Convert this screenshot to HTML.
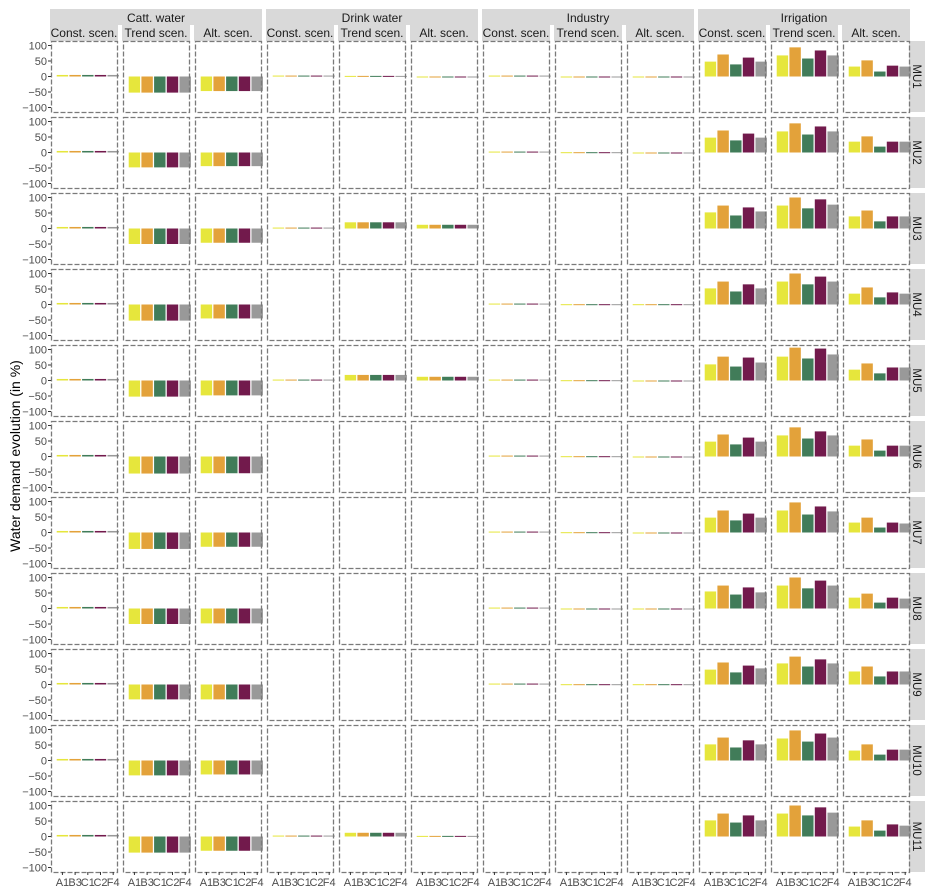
<!DOCTYPE html>
<html><head><meta charset="utf-8"><style>
body{margin:0;background:#fff;}
svg{display:block;font-family:"Liberation Sans",sans-serif;}
</style></head><body>
<svg id="chart" width="935" height="892" viewBox="0 0 935 892"></svg>
<script>
const categories = ['A1','B3','C1','C2','F4'];
const colors = ['#e6e63c','#e3a23a','#417c59','#721a4c','#999999'];
const units = ['MU1','MU2','MU3','MU4','MU5','MU6','MU7','MU8','MU9','MU10','MU11'];
const groups = ['Catt. water','Drink water','Industry','Irrigation'];
const scenarios = ['Const. scen.','Trend scen.','Alt. scen.'];
const yTicks = [100,50,0,-50,-100];
// values per unit (null = empty panel)
const cattConst = [[5,5,5,5,5],[5,5,5,5,5],[5,5,5,5,5],[5,5,5,5,5],[5,5,5,5,5],[5,5,5,5,5],[5,5,5,5,5],[5,5,5,5,5],[5,5,5,5,5],[5,5,5,5,5],[5,5,5,5,5]];
const cattTrend = [[-52,-52,-52,-52,-52],[-48,-48,-48,-48,-48],[-50,-50,-50,-50,-50],[-52,-52,-52,-52,-52],[-52,-52,-52,-52,-52],[-55,-55,-55,-55,-55],[-53,-53,-53,-53,-53],[-50,-50,-50,-50,-50],[-48,-48,-48,-48,-48],[-48,-48,-48,-48,-48],[-52,-52,-52,-52,-52]];
const cattAlt = [[-47,-47,-47,-47,-47],[-44,-44,-44,-44,-44],[-46,-46,-46,-46,-46],[-45,-45,-45,-45,-45],[-48,-48,-48,-48,-48],[-54,-54,-54,-54,-54],[-46,-46,-46,-46,-46],[-48,-48,-48,-48,-48],[-48,-48,-48,-48,-48],[-45,-45,-45,-45,-45],[-46,-46,-46,-46,-46]];
const drinkConst = [[3,3,3,3,3],null,[3,3,3,3,3],null,[3,3,3,3,3],null,null,null,null,null,[3,3,3,3,3]];
const drinkTrend = [[2,2,2,2,2],null,[20,20,20,20,20],null,[18,18,18,18,18],null,null,null,null,null,[12,12,12,12,12]];
const drinkAlt = [[-3,-3,-3,-3,-3],null,[12,12,12,12,12],null,[12,12,12,12,12],null,null,null,null,null,[2,2,2,2,2]];
const indConst = [[3,3,3,3,3],[3,3,3,3,3],null,[3,3,3,3,3],[3,3,3,3,3],[3,3,3,3,3],[3,3,3,3,3],[3,3,3,3,3],[3,3,3,3,3],null,null];
const indTrend = [[-2,-2,-2,-2,-2],[1,1,1,1,1],null,[1,1,1,1,1],[1,1,1,1,1],[1,1,1,1,1],[1,1,1,1,1],[-1,-1,-1,-1,-1],[1,1,1,1,1],null,null];
const indAlt = [[-3,-3,-3,-3,-3],[-2,-2,-2,-2,-2],null,[1,1,1,1,1],[-3,-3,-3,-3,-3],[-3,-3,-3,-3,-3],[-2,-2,-2,-2,-2],[-2,-2,-2,-2,-2],[1,1,1,1,1],null,null];
const irrConst = [[48,71,39,61,48],[48,71,39,61,48],[52,74,42,68,55],[52,74,42,65,52],[52,77,45,74,58],[48,71,39,61,48],[48,71,39,61,48],[55,74,45,68,52],[48,71,39,61,52],[52,74,42,65,52],[52,74,45,68,52]];
const irrTrend = [[68,94,58,84,68],[68,94,58,84,68],[74,100,65,94,77],[74,100,65,90,74],[77,106,71,103,84],[68,94,58,81,68],[71,97,58,84,68],[74,100,65,90,74],[68,90,58,81,68],[71,97,61,87,74],[74,100,68,94,77]];
const irrAlt = [[32,52,16,35,32],[35,52,19,35,35],[39,58,23,39,39],[35,55,23,39,35],[35,55,23,42,42],[35,55,19,35,35],[32,48,16,32,29],[35,48,19,35,32],[42,58,26,42,42],[32,52,19,35,35],[32,52,19,39,35]];
const panelData = [cattConst,cattTrend,cattAlt,drinkConst,drinkTrend,drinkAlt,indConst,indTrend,indAlt,irrConst,irrTrend,irrAlt];

const svg = document.getElementById('chart');
const NS = 'http://www.w3.org/2000/svg';
function mk(tag, attrs, parent){const e=document.createElementNS(NS,tag);for(const k in attrs)e.setAttribute(k,attrs[k]);(parent||svg).appendChild(e);return e;}
const X0=51, PW=66, PSTEP=72, Y0=41, PH=71, RSTEP=76;
const panelX = c => X0 + c*PSTEP;
const panelY = r => Y0 + r*RSTEP;
const yScale = (v, r) => panelY(r) + PH/2 - v*0.31;
const unitW = PW/5.2;
const xScale = (i, c) => panelX(c) + (0.4 + i + 0.5 - 0.45) * unitW;
const barW = unitW*0.9;

for(let g=0; g<4; g++){
  const s = mk('rect',{x:panelX(g*3)-1,y:9,width:PSTEP*2+PW+2,height:16,fill:'#d9d9d9'});
  
  
  const t = mk('text',{x:panelX(g*3)+PSTEP+PW/2,y:22,'text-anchor':'middle','font-size':12,fill:'#1a1a1a'});
  t.textContent = groups[g];
  
  
}
for(let c=0; c<12; c++){
  const s = mk('rect',{x:panelX(c)-1,y:25,width:PW+2,height:16,fill:'#d9d9d9'});
  
  
  const t = mk('text',{x:panelX(c)+PW/2,y:37,'text-anchor':'middle','font-size':12,fill:'#1a1a1a'});
  t.textContent = scenarios[c%3];
  
  
}
for(let r=0; r<11; r++){
  const s = mk('rect',{x:909,y:panelY(r),width:16,height:PH,fill:'#d9d9d9'});
  
  
  const cy = panelY(r)+PH/2;
  const t = mk('text',{x:913,y:cy,'text-anchor':'middle','font-size':11.5,fill:'#1a1a1a',transform:`rotate(90 913 ${cy})`});
  t.textContent = units[r];
  
  
}
for(let r=0; r<11; r++){
  yTicks.forEach(v=>{
    const y = yScale(v,r);
    const tk = mk('line',{x1:X0-3,x2:X0,y1:y,y2:y,stroke:'#333','stroke-width':1});
    
    
    const t = mk('text',{x:X0-4,y:y+4,'text-anchor':'end','font-size':11,fill:'#4d4d4d'});
    t.textContent = v<0 ? '\u2212'+(-v) : String(v);
    
    
  });
}
for(let r=0; r<11; r++){
  for(let c=0; c<12; c++){
    const vals = panelData[c][r];
    if(vals){
      vals.forEach((v,i)=>{
        const y0 = yScale(0,r), y1 = yScale(v,r);
        const b = mk('rect',{x:xScale(i,c),y:Math.min(y0,y1),width:barW,height:Math.max(Math.abs(y1-y0),1),fill:colors[i]});
        
        
      });
    }
    const fr = mk('rect',{x:panelX(c)+0.5,y:panelY(r)+0.5,width:PW,height:PH,fill:'none',stroke:'#7a7a7a','stroke-width':1.3,'stroke-dasharray':'5 2'});
    
    
  }
}
for(let c=0; c<12; c++){
  categories.forEach((cat,i)=>{
    const x = xScale(i,c)+barW/2;
    const tk = mk('line',{x1:x,x2:x,y1:872,y2:875,stroke:'#333','stroke-width':1});
    
    
    const t = mk('text',{x:x,y:886,'text-anchor':'middle','font-size':11,fill:'#4d4d4d'});
    t.textContent = cat;
    
    
  });
}
const yt = mk('text',{x:20,y:456,'text-anchor':'middle','font-size':14,fill:'#000',transform:'rotate(-90 20 456)'});
yt.textContent = 'Water demand evolution (in %)';


</script>
</body></html>
